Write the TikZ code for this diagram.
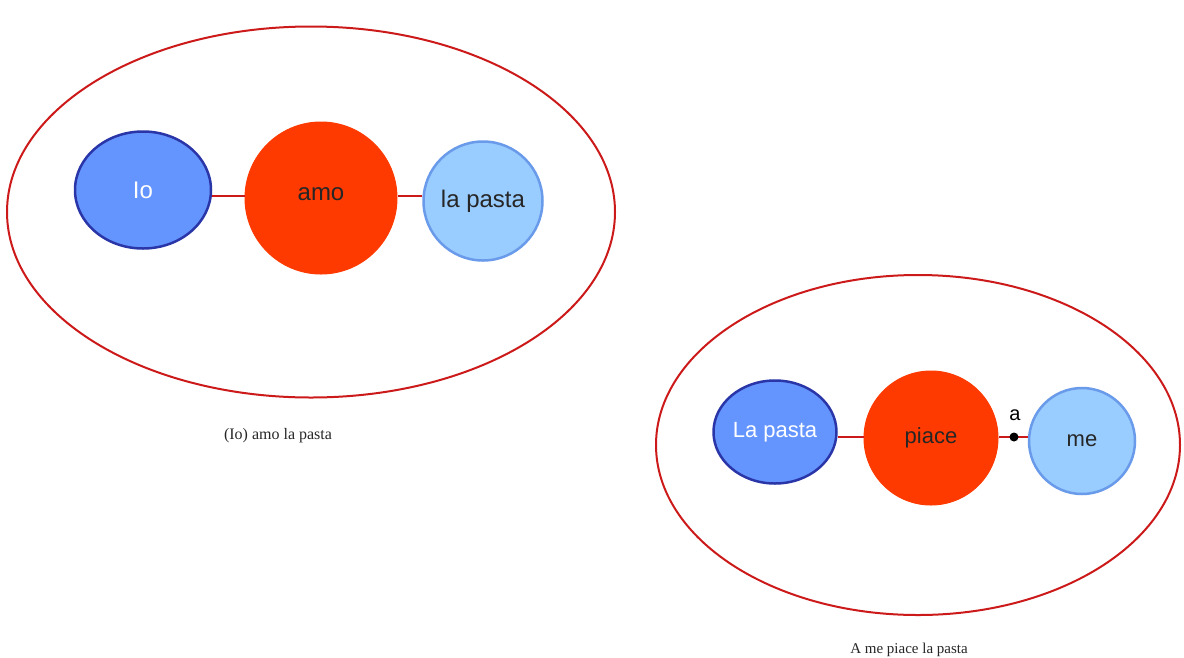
\documentclass[tikz,border=0pt]{standalone}
\usepackage{fontspec}
\setmainfont{Liberation Serif}
\newfontfamily\nodefont{Liberation Sans}
\usetikzlibrary{shapes.geometric}
\definecolor{frame}{HTML}{CC1A1A}
\definecolor{subj}{HTML}{6495FF}
\definecolor{subjline}{HTML}{2A36A8}
\definecolor{verb}{HTML}{FF3A00}
\definecolor{obj}{HTML}{99CCFF}
\definecolor{objline}{HTML}{6A9BEA}
\tikzset{
  framebox/.style={ellipse, draw=frame, line width=2pt, inner sep=0pt},
  subjnode/.style={ellipse, fill=subj, draw=subjline, line width=2.5pt, inner sep=0pt, text=white, font=\nodefont},
  verbnode/.style={circle, fill=verb, draw=verb, line width=1pt, inner sep=0pt, text=black!85, font=\nodefont},
  objnode/.style={circle, fill=obj, draw=objline, line width=2.5pt, inner sep=0pt, text=black!85, font=\nodefont},
  link/.style={draw=frame, line width=2pt},
  caption/.style={font=\rmfamily, text=black!85}
}
\begin{document}
\begin{tikzpicture}[x=1pt,y=-1pt]
\useasboundingbox (0,0) rectangle (1184,657);

% first sentence
\node[framebox, minimum width=608pt, minimum height=371pt] (f1) at (311,212) {};
\node[subjnode, minimum width=136pt, minimum height=117pt, font=\nodefont\fontsize{24}{28}\selectfont] (io) at (143,190) {Io};
\node[verbnode, minimum size=152pt, font=\nodefont\fontsize{24}{28}\selectfont] (amo) at (321,198) {\raisebox{7pt}{amo}};
\node[objnode, minimum size=119pt, font=\nodefont\fontsize{24}{28}\selectfont] (pasta1) at (483,201) {la pasta};
\draw[link] (io.east |- 0,196) -- (amo.west |- 0,196);
\draw[link] (amo.east |- 0,196) -- (pasta1.west |- 0,196);
\node[caption, font=\rmfamily\fontsize{16}{19}\selectfont] (cap1) at (278,436) {(Io) amo la pasta};

% second sentence
\node[framebox, minimum width=524pt, minimum height=340pt] (f2) at (918,445) {};
\node[subjnode, minimum width=123pt, minimum height=103pt, font=\nodefont\fontsize{22}{26}\selectfont] (pasta2) at (775,432) {La pasta};
\node[verbnode, minimum size=134pt, font=\nodefont\fontsize{22}{26}\selectfont] (piace) at (931,438) {piace};
\node[objnode, minimum size=106pt, font=\nodefont\fontsize{22}{26}\selectfont] (me) at (1082,441) {me};
\coordinate (prep) at (1014,437);
\draw[link] (pasta2.east |- 0,437) -- (piace.west |- 0,437);
\draw[link] (piace.east |- 0,437) -- (prep) -- (me.west |- 0,437);
\fill[black] (prep) circle (4.5pt);
\node[font=\nodefont\fontsize{20}{24}\selectfont, text=black] (alab) at (1015,415) {a};
\node[caption, font=\rmfamily\fontsize{15}{18}\selectfont] (cap2) at (909,650) {A me piace la pasta};
\end{tikzpicture}
\end{document}
